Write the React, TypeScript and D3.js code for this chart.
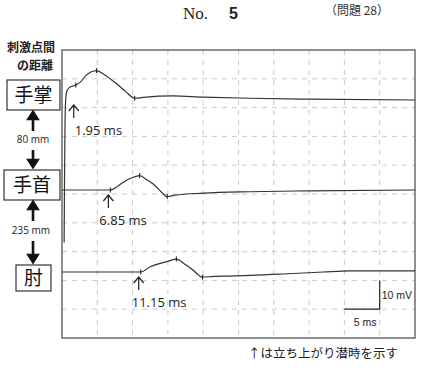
import React from 'react';
import * as d3 from 'd3';

// [ms, mV] points (relative to its own baseline)
const palmTrace: [number, number][] = [
    [0.3, -49.5], [0.35, -30], [0.42, -10], [0.52, 0], [0.7, 3.2], [1.1, 4.4], [1.95, 5.2],
    [2.6, 6.2], [3.3, 8.3], [4.1, 9.7], [4.9, 10.2], [6.0, 8.8], [7.7, 5.7], [9.0, 3.0],
    [10.3, 0.6], [11.5, 0.9], [15.7, 1.4], [20, 1.0], [26.6, 0.6], [35, 0.3], [50, 0],
];
const wristTrace: [number, number][] = [
    [0, 0], [6.85, 0], [8.0, 1.5], [9.2, 3.5], [10.2, 4.5], [11.0, 5.0], [12.0, 3.6],
    [13.2, 1.5], [14.0, -0.5], [14.9, -2.3], [16.0, -1.8], [20, -1.1], [26.6, -0.6],
    [35, -0.3], [50, 0],
];
const elbowTrace: [number, number][] = [
    [0, 0], [11.15, 0], [12.5, 1.8], [13.9, 3.0], [15.0, 3.7], [16.2, 4.5], [17.4, 2.7],
    [18.6, 0.6], [19.3, -1.0], [19.9, -1.8], [21.5, -1.5], [23.8, -1.4], [31.3, -0.7],
    [37, 0], [40.8, 0.4], [50, 0.4],
];

const traces = [palmTrace, wristTrace, elbowTrace];
const siteLabels = ['手掌', '手首', '肘'];
const distances = ['80 mm', '235 mm'];
const latencies = [1.95, 6.85, 11.15];
const latencyLabels = ['1.95 ms', '6.85 ms', '11.15 ms'];
const markerTimes = [
    [1.95, 4.9, 10.3],
    [6.85, 11.0, 14.9],
    [11.15, 16.2, 19.9],
];

const W = 422;
const H = 368;
const frame = { left: 62, right: 415, top: 50, bottom: 338 };
const baselines = [100, 190, 272];
const labelDx = [-1, -11, -9];
const jp = '"Noto Sans CJK JP", sans-serif';
const sans = '"Open Sans", "Noto Sans", sans-serif';

const valueAt = (pts: [number, number][], t: number) => {
    const i = d3.bisector((p: [number, number]) => p[0]).left(pts, t);
    if (i <= 0) return pts[0][1];
    if (i >= pts.length) return pts[pts.length - 1][1];
    const [x0, y0] = pts[i - 1];
    const [x1, y1] = pts[i];
    return y0 + ((t - x0) / (x1 - x0)) * (y1 - y0);
};

const App: React.FC = () => {
    const x = d3.scaleLinear().domain([0, 50]).range([frame.left, frame.right]);
    // 10 mV per division, 10 divisions
    const mv = d3.scaleLinear().domain([0, 100]).range([0, frame.bottom - frame.top]);
    const yOf = (i: number, v: number) => baselines[i] - mv(v);

    const xTicks = d3.range(0, 51, 5);
    const yTicks = d3.range(0, 101, 10);
    const gridY = (v: number) => frame.bottom - mv(v);

    const boxes = [
        { x: 7, y: 80, w: 53, h: 30 },
        { x: 4, y: 170, w: 56, h: 30 },
        { x: 16, y: 265, w: 35, h: 26 },
    ];

    const arrowUp = (cx: number, tip: number, tail: number) =>
        `M${cx},${tip} L${cx - 4.5},${tip + 7} L${cx + 4.5},${tip + 7} Z M${cx},${tip + 6} L${cx},${tail}`;
    const arrowDown = (cx: number, tail: number, tip: number) =>
        `M${cx},${tip} L${cx - 4.5},${tip - 7} L${cx + 4.5},${tip - 7} Z M${cx},${tip - 6} L${cx},${tail}`;

    return (
        <svg width={W} height={H} style={{ position: 'absolute', left: 0, top: 0, background: '#fff' }}>
            {/* header */}
            <text x={183} y={19} fontFamily='"Liberation Serif", serif' fontSize={17} fill="#222">No.</text>
            <text x={229} y={19} fontFamily='"Liberation Sans", sans-serif' fontSize={16} fontWeight="bold" fill="#222">5</text>
            <text x={325} y={15} fontFamily={jp} fontSize={12} fill="#333">（問題 28）</text>

            {/* grid */}
            {xTicks.slice(1, -1).map(t => (
                <line key={'gx' + t} x1={x(t)} x2={x(t)} y1={frame.top} y2={frame.bottom}
                    stroke="#c4c4c4" strokeWidth={0.9} strokeDasharray="5 5" />
            ))}
            {yTicks.slice(1, -1).map(t => (
                <line key={'gy' + t} x1={frame.left} x2={frame.right} y1={gridY(t)} y2={gridY(t)}
                    stroke="#c4c4c4" strokeWidth={0.9} strokeDasharray="5 5" />
            ))}
            <rect x={frame.left} y={frame.top} width={frame.right - frame.left} height={frame.bottom - frame.top}
                fill="none" stroke="#555" strokeWidth={1.3} />

            {/* traces */}
            {traces.map((pts, i) => {
                const line = d3.line<[number, number]>()
                    .x(d => x(d[0]))
                    .y(d => yOf(i, d[1]))
                    .curve(d3.curveMonotoneX);
                return (
                    <g key={'tr' + i}>
                        <path d={line(pts) || ''} fill="none" stroke="#333" strokeWidth={1.2} />
                        {markerTimes[i].map(t => (
                            <line key={t} x1={x(t)} x2={x(t)} y1={yOf(i, valueAt(pts, t)) - 2.5}
                                y2={yOf(i, valueAt(pts, t)) + 2.5} stroke="#222" strokeWidth={1.1} />
                        ))}
                    </g>
                );
            })}

            {/* latency arrows */}
            {latencies.map((t, i) => {
                const ax = x(t) - 2;
                const top = baselines[i] + 5;
                return (
                    <g key={'lat' + i}>
                        <path d={`M${ax},${top} L${ax},${top + 13} M${ax - 5},${top + 6} L${ax},${top} L${ax + 5},${top + 6}`}
                            fill="none" stroke="#222" strokeWidth={1.2} />
                        <text x={x(t) + labelDx[i]} y={top + 30} fontFamily={sans} fontSize={13} fill="#222">
                            {latencyLabels[i]}
                        </text>
                    </g>
                );
            })}

            {/* scale bar: 10 mV x 5 ms */}
            <path d={`M${x(45)},${gridY(20)} L${x(45)},${gridY(10)} L${x(40)},${gridY(10)}`}
                fill="none" stroke="#222" strokeWidth={1.2} />
            <text x={x(45) + 2} y={299} fontFamily='"Liberation Sans", sans-serif' fontSize={10.5} fill="#222">10 mV</text>
            <text x={x(42.5) + 3} y={326} textAnchor="middle" fontFamily='"Liberation Sans", sans-serif' fontSize={10.5} fill="#222">5 ms</text>

            {/* left side labels */}
            <text x={31} y={52} textAnchor="middle" fontFamily={jp} fontSize={12} fontWeight="bold" fill="#222">刺激点間</text>
            <text x={35} y={70} textAnchor="middle" fontFamily={jp} fontSize={12} fontWeight="bold" fill="#222">の距離</text>
            {boxes.map((b, i) => (
                <g key={'box' + i}>
                    <rect x={b.x} y={b.y} width={b.w} height={b.h} fill="#fff" stroke="#333" strokeWidth={1.2} />
                    <text x={b.x + b.w / 2} y={b.y + b.h / 2 + 7} textAnchor="middle" fontFamily={jp} fontSize={19} fill="#111">
                        {siteLabels[i]}
                    </text>
                </g>
            ))}
            <path d={arrowUp(33, 112, 131)} fill="#111" stroke="#111" strokeWidth={2.6} />
            <text x={33} y={143} textAnchor="middle" fontFamily={sans} fontSize={10} fill="#222">{distances[0]}</text>
            <path d={arrowDown(33, 150, 167)} fill="#111" stroke="#111" strokeWidth={2.6} />
            <path d={arrowUp(33, 202, 221)} fill="#111" stroke="#111" strokeWidth={2.6} />
            <text x={31} y={234} textAnchor="middle" fontFamily={sans} fontSize={10} fill="#222">{distances[1]}</text>
            <path d={arrowDown(33, 241, 262)} fill="#111" stroke="#111" strokeWidth={2.6} />

            {/* footnote */}
            <text x={248} y={358} fontFamily={jp} fontSize={12.5} fill="#222">↑は立ち上がり潜時を示す</text>
        </svg>
    );
};

export default App;
